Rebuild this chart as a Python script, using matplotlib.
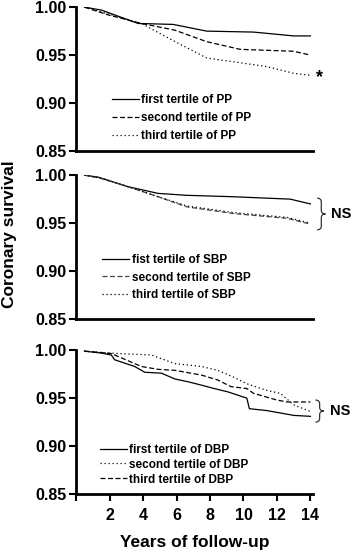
import matplotlib
matplotlib.use("Agg")
import matplotlib.pyplot as plt
from matplotlib.path import Path
from matplotlib.patches import PathPatch

plt.rcParams['font.family'] = ['Liberation Sans', 'DejaVu Sans']
plt.rcParams['font.weight'] = 'bold'

# panel 1 - pulse pressure
pp_years_1 = [0.5, 1.5, 3.7, 5.8, 7.8, 10.6, 13.0, 14.0]
pp_first = [1.000, 0.997, 0.983, 0.982, 0.975, 0.974, 0.970, 0.970]
pp_years_2 = [0.5, 1.9, 3.9, 5.9, 7.8, 9.8, 11.4, 13.0, 14.0]
pp_second = [1.000, 0.992, 0.983, 0.976, 0.964, 0.956, 0.955, 0.954, 0.950]
pp_years_3 = [0.5, 2.1, 3.9, 5.7, 7.8, 9.4, 11.4, 13.0, 14.0]
pp_third = [1.000, 0.992, 0.983, 0.966, 0.947, 0.943, 0.938, 0.931, 0.929]

# panel 2 - systolic
sbp_years_1 = [0.5, 1.3, 3.1, 4.9, 6.6, 9.4, 12.8, 14.0]
sbp_first = [1.000, 0.998, 0.988, 0.981, 0.979, 0.9775, 0.975, 0.970]
sbp_years_2 = [0.5, 1.5, 3.1, 4.9, 6.6, 9.4, 12.6, 14.0]
sbp_second = [1.000, 0.9965, 0.988, 0.9775, 0.967, 0.960, 0.955, 0.949]
sbp_years_3 = [0.5, 1.5, 3.1, 5.0, 6.6, 9.4, 12.6, 14.0]
sbp_third = [1.000, 0.997, 0.988, 0.977, 0.968, 0.961, 0.956, 0.950]

# panel 3 - diastolic
dbp_years_1 = [0.5, 1.5, 2.1, 2.3, 3.5, 4.1, 5.1, 5.9, 6.7, 7.5, 8.25, 9.05, 10.2, 10.35, 11.4, 13.0, 14.0]
dbp_first = [0.999, 0.997, 0.995, 0.990, 0.983, 0.977, 0.976, 0.970, 0.967, 0.9635, 0.960, 0.9566, 0.950, 0.939, 0.937, 0.932, 0.931]
dbp_years_2 = [0.5, 2.5, 4.5, 5.9, 7.5, 8.45, 9.4, 10.2, 11.4, 12.2, 13.0, 14.0]
dbp_second = [0.999, 0.9965, 0.995, 0.986, 0.983, 0.979, 0.972, 0.965, 0.958, 0.955, 0.943, 0.936]
dbp_years_3 = [0.5, 2.1, 3.9, 4.9, 5.9, 7.5, 8.45, 9.25, 10.2, 10.6, 12.0, 12.6, 14.0]
dbp_third = [0.999, 0.9965, 0.983, 0.980, 0.979, 0.974, 0.969, 0.962, 0.960, 0.955, 0.948, 0.946, 0.946]

y_ticks = [0.85, 0.90, 0.95, 1.00]
x_ticks = [0, 2, 4, 6, 8, 10, 12, 14]
x_labels = ["", "2", "4", "6", "8", "10", "12", "14"]

pp_labels = ["first tertile of PP", "second tertile of PP", "third tertile of PP"]
sbp_labels = ["fist tertile of SBP", "second tertile of SBP", "third tertile of SBP"]
dbp_labels = ["first tertile of DBP", "second tertile of DBP", "third tertile of DBP"]

SOLID = '-'
DASHED = (0, (4, 2))
DOTTED = (0, (1, 2.2))


def brace(ax, x, y0, y1, w=0.25):
      # curly brace in data coords, tip pointing right
      ym = (y0 + y1) / 2
      codes = [Path.MOVETO, Path.CURVE3, Path.CURVE3, Path.LINETO,
               Path.CURVE3, Path.CURVE3,
               Path.CURVE3, Path.CURVE3, Path.LINETO,
               Path.CURVE3, Path.CURVE3]
      verts = [(x, y1), (x + w, y1), (x + w, y1 - 0.004), (x + w, ym + 0.004),
               (x + w, ym), (x + 2 * w, ym),
               (x + w, ym), (x + w, ym - 0.004), (x + w, y0 + 0.004),
               (x + w, y0), (x, y0)]
      ax.add_patch(PathPatch(Path(verts, codes), fill=False, lw=0.9,
                             color='#333333', clip_on=False))


def style_axis(ax, bottom):
      ax.set_xlim(0, 14.15)
      ax.set_ylim(0.85, 1.0)
      for s in ['top', 'right']:
            ax.spines[s].set_visible(False)
      for s in ['left', 'bottom']:
            ax.spines[s].set_linewidth(2)
      ax.set_yticks(y_ticks)
      ax.set_yticklabels([f"{v:.2f}" for v in y_ticks], fontsize=11.5, fontweight='bold')
      ax.tick_params(axis='y', direction='out', length=5, width=1.5, pad=2)
      if bottom:
            ax.set_xticks(x_ticks)
            ax.set_xticklabels(x_labels, fontsize=11.5, fontweight='bold')
            ax.tick_params(axis='x', direction='out', length=5, width=1.5, pad=5)
      else:
            ax.set_xticks([])


fig = plt.figure(figsize=(3.54, 5.50), dpi=100)
ax1 = fig.add_axes([0.215, 0.7255, 0.669, 0.2615])
ax2 = fig.add_axes([0.215, 0.42, 0.669, 0.2615])
ax3 = fig.add_axes([0.215, 0.1018, 0.669, 0.2615])

leg_kw = dict(frameon=False, handlelength=2.3, handletextpad=0.2,
              prop={'size': 8.5, 'weight': 'bold'}, borderaxespad=0, borderpad=0)

ax1.plot(pp_years_1, pp_first, color='black', lw=0.9, ls=SOLID, label=pp_labels[0])
ax1.plot(pp_years_2, pp_second, color='black', lw=0.9, ls=DASHED, label=pp_labels[1])
ax1.plot(pp_years_3, pp_third, color='black', lw=0.9, ls=DOTTED, label=pp_labels[2])
style_axis(ax1, False)
ax1.legend(loc='upper left', bbox_to_anchor=(0.15, 0.395), labelspacing=0.5, **leg_kw)
ax1.text(14.55, 0.927, "*", fontsize=13, fontweight='bold', ha='center', va='center')

ax2.plot(sbp_years_1, sbp_first, color='black', lw=0.9, ls=SOLID, label=sbp_labels[0])
ax2.plot(sbp_years_2, sbp_second, color='#444444', lw=0.9, ls=DASHED, label=sbp_labels[1])
ax2.plot(sbp_years_3, sbp_third, color='black', lw=0.9, ls=DOTTED, label=sbp_labels[2])
style_axis(ax2, False)
ax2.legend(loc='upper left', bbox_to_anchor=(0.11, 0.45), labelspacing=0.45, **leg_kw)
brace(ax2, 14.4, 0.943, 0.976)
ax2.text(15.25, 0.9595, "NS", fontsize=10.5, fontweight='bold', ha='left', va='center')

ax3.plot(dbp_years_1, dbp_first, color='black', lw=0.9, ls=SOLID, label=dbp_labels[0])
ax3.plot(dbp_years_2, dbp_second, color='black', lw=0.9, ls=DOTTED, label=dbp_labels[1])
ax3.plot(dbp_years_3, dbp_third, color='black', lw=0.9, ls=DASHED, label=dbp_labels[2])
style_axis(ax3, True)
ax3.legend(loc='upper left', bbox_to_anchor=(0.10, 0.35), labelspacing=0.25, **leg_kw)
brace(ax3, 14.3, 0.925, 0.948)
ax3.text(15.15, 0.9365, "NS", fontsize=10.5, fontweight='bold', ha='left', va='center')

ax3.set_xlabel("Years of follow-up", fontsize=12.5, fontweight='bold', labelpad=9)
fig.text(0.028, 0.575, "Coronary survival", rotation=90, fontsize=12.5, fontweight='bold',
         ha='center', va='center')

fig.savefig("out.png", dpi=100)
